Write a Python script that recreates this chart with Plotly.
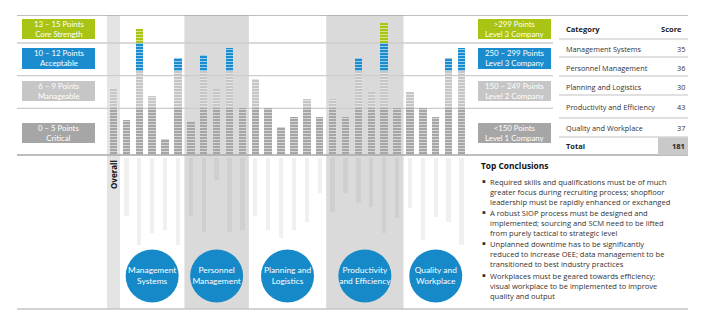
import plotly.graph_objects as go

# ---------------- data ----------------
categories = ["Management Systems", "Personnel Management", "Planning and Logistics",
              "Productivity and Efficiency", "Quality and Workplace"]
circle_labels = ["Management<br>Systems", "Personnel<br>Management", "Planning and<br>Logistics",
                 "Productivity<br>and Efficiency", "Quality and<br>Workplace"]
category_scores = [35, 36, 30, 43, 37]
total_score = 181
overall_value = 7.1
ms_q = [3.8, 13.5, 6.3, 1.7, 10.4]
pm_q = [3.6, 10.7, 7.1, 11.5, 5.0]
pl_q = [8.1, 5.0, 3.0, 4.1, 6.0, 4.1]
pe_q = [6.0, 4.1, 10.4, 6.8, 14.1, 5.0]
qw_q = [6.8, 5.0, 4.1, 10.4, 11.5]
question_groups = [ms_q, pm_q, pl_q, pe_q, qw_q]
shaded_groups = [1, 3]
# blurred (anonymised) question label lengths, px below the axis
blurred_label_len = [0, 58, 87, 75, 72, 87, 58, 74, 22, 74, 72, 58, 72, 80, 72,
                     64, 35, 54, 35, 45, 49, 75, 60, 50, 82, 59, 64, 87]
band_lines = [5, 8.5, 12, 15]
color_breaks = [5, 9, 12]
left_legend = ["13 – 15 Points<br>Core Strength", "10 – 12 Points<br>Acceptable",
               "6 – 9 Points<br>Manageable", "0 – 5 Points<br>Critical"]
right_legend = [">299 Points<br>Level 3 Company", "250 – 299 Points<br>Level 3 Company",
                "150 – 249 Points<br>Level 2 Company", "<150 Points<br>Level 1 Company"]
conclusions = [
    ["Required skills and qualifications must be of much",
     "greater focus during recruiting process; shopfloor",
     "leadership must be rapidly enhanced or exchanged"],
    ["A robust SIOP process must be designed and",
     "implemented; sourcing and SCM need to be lifted",
     "from purely tactical to strategic level"],
    ["Unplanned downtime has to be significantly",
     "reduced to increase OEE; data management to be",
     "transitioned to best industry practices"],
    ["Workplaces must be geared towards efficiency;",
     "visual workplace to be implemented to improve",
     "quality and output"],
]

# ---------------- styling ----------------
W, H = 713, 326
FONT = "Open Sans"
FONT2 = "Lato"
GREEN = "#a9c414"
BLUE = "#1b8dcf"
CIRCLE = "#1689c8"
LGREY = "#c6c6c6"
DGREY = "#a6a6a6"
band_colors = [DGREY, LGREY, BLUE, GREEN]


def px(x):
    return x / W


def py(y):
    return 1 - y / H


values = [overall_value] + [v for g in question_groups for v in g]
xs = list(range(len(values)))

# segment values per colour band
lows = [0] + color_breaks
highs = color_breaks + [None]
fig = go.Figure()
for lo, hi, col in zip(lows, highs, band_colors):
    seg = []
    for v in values:
        top = v if hi is None else min(v, hi)
        seg.append(max(0, top - lo))
    fig.add_trace(go.Bar(
        x=xs, y=seg, width=0.58, marker=dict(
            color=col, line=dict(width=0),
            pattern=dict(shape="-", fillmode="overlay", fgcolor="white",
                         fgopacity=0.55, size=3, solidity=0.33)),
        hoverinfo="skip", showlegend=False, xaxis="x", yaxis="y"))

# blurred labels below axis
fig.add_trace(go.Bar(
    x=xs[1:], y=blurred_label_len[1:], base=3, width=0.34,
    marker=dict(color="rgba(130,130,130,0.12)", line=dict(width=0)),
    hoverinfo="skip", showlegend=False, xaxis="x", yaxis="y2"))

# group circles
centers = []
start = 1
for g in question_groups:
    centers.append(start + (len(g) - 1) / 2)
    start += len(g)
fig.add_trace(go.Scatter(
    x=centers, y=[121] * len(centers), mode="markers+text",
    marker=dict(size=53, color=CIRCLE, line=dict(width=0)),
    text=circle_labels, textposition="middle center",
    textfont=dict(color="white", size=8.4, family=FONT2),
    hoverinfo="skip", showlegend=False, cliponaxis=False, xaxis="x", yaxis="y2"))

shapes = []
# shaded columns
shapes.append(dict(type="rect", xref="x", yref="paper", x0=-0.5, x1=0.5,
                   y0=py(309), y1=py(15), fillcolor="#e4e4e4", line_width=0, layer="below"))
start = 1
for gi, g in enumerate(question_groups):
    if gi in shaded_groups:
        shapes.append(dict(type="rect", xref="x", yref="paper", x0=start - 0.5,
                           x1=start + len(g) - 0.5, y0=py(309), y1=py(15),
                           fillcolor="#dadada", line_width=0, layer="below"))
    start += len(g)

# horizontal band lines
for b in band_lines[:-1]:
    shapes.append(dict(type="line", xref="paper", yref="y", x0=px(17), x1=px(553),
                       y0=b, y1=b, line=dict(color="#cdcdcd", width=1.3), layer="below"))
shapes.append(dict(type="line", xref="paper", yref="y", x0=px(17), x1=px(688),
                   y0=band_lines[-1], y1=band_lines[-1], line=dict(color="#a8a8a8", width=1.5),
                   layer="below"))
shapes.append(dict(type="line", xref="paper", yref="paper", x0=px(17), x1=px(688),
                   y0=py(155), y1=py(155), line=dict(color="#a8a8a8", width=1.5)))
shapes.append(dict(type="line", xref="paper", yref="paper", x0=px(17), x1=px(688),
                   y0=py(309), y1=py(309), line=dict(color="#c4c4c4", width=1.3)))

annotations = []
# legend boxes
box_rows = [(19, 39), (48, 69), (81, 101), (123, 143)]
box_cols = [GREEN, BLUE, LGREY, DGREY]
for (y0, y1), col, lt, rt in zip(box_rows, box_cols, left_legend, right_legend):
    for (x0, x1), t in (((22, 95), lt), ((478, 551), rt)):
        shapes.append(dict(type="rect", xref="paper", yref="paper", x0=px(x0), x1=px(x1),
                           y0=py(y1), y1=py(y0), fillcolor=col, line_width=0))
        annotations.append(dict(xref="paper", yref="paper", x=px((x0 + x1) / 2),
                                y=py((y0 + y1) / 2), text=t, showarrow=False,
                                font=dict(color="white", size=7.8, family=FONT2),
                                xanchor="center", yanchor="middle"))

# table
table_lines = [39, 57, 76, 95, 118, 137]
shapes.append(dict(type="rect", xref="paper", yref="paper", x0=px(658), x1=px(688),
                   y0=py(155), y1=py(137), fillcolor="#c9c9c9", line_width=0))
for yl in table_lines:
    shapes.append(dict(type="line", xref="paper", yref="paper", x0=px(559), x1=px(688),
                       y0=py(yl), y1=py(yl), line=dict(color="#d6d6d6", width=1.3)))
annotations.append(dict(xref="paper", yref="paper", x=px(564), y=py(29), text="<b>Category</b>",
                        showarrow=False, xanchor="left", yanchor="middle",
                        font=dict(size=7.5, color="#222", family=FONT)))
annotations.append(dict(xref="paper", yref="paper", x=px(684), y=py(28.5), text="<b>Score</b>",
                        showarrow=False, xanchor="right", yanchor="middle",
                        font=dict(size=7.5, color="#222", family=FONT)))
row_y = [49, 68, 87, 107, 128]
for ry, c, s in zip(row_y, categories, category_scores):
    annotations.append(dict(xref="paper", yref="paper", x=px(564), y=py(ry), text=c,
                            showarrow=False, xanchor="left", yanchor="middle",
                            font=dict(size=7.3, color="#333", family=FONT)))
    annotations.append(dict(xref="paper", yref="paper", x=px(687), y=py(ry), text=str(s),
                            showarrow=False, xanchor="right", yanchor="middle",
                            font=dict(size=7.3, color="#333", family=FONT)))
annotations.append(dict(xref="paper", yref="paper", x=px(564), y=py(146), text="<b>Total</b>",
                        showarrow=False, xanchor="left", yanchor="middle",
                        font=dict(size=7.5, color="#222", family=FONT)))
annotations.append(dict(xref="paper", yref="paper", x=px(687), y=py(146),
                        text="<b>%d</b>" % total_score, showarrow=False, xanchor="right",
                        yanchor="middle", font=dict(size=7.5, color="#222", family=FONT)))

# "Overall" rotated label
annotations.append(dict(xref="x", yref="paper", x=0, y=py(158), text="<b>Overall</b>",
                        textangle=-90, showarrow=False, xanchor="center", yanchor="top",
                        font=dict(size=8, color="#111", family=FONT)))

# conclusions
annotations.append(dict(xref="paper", yref="paper", x=px(479), y=py(165),
                        text="<b>Top Conclusions</b>", showarrow=False, xanchor="left",
                        yanchor="middle", font=dict(size=8.4, color="#111", family=FONT)))
bullet_y = [181, 212, 243, 275]
for by, lines in zip(bullet_y, conclusions):
    annotations.append(dict(xref="paper", yref="paper", x=px(481), y=py(by), text="▪",
                            showarrow=False, xanchor="left", yanchor="middle", borderpad=0,
                            font=dict(size=5.5, color="#333", family="DejaVu Sans")))
    annotations.append(dict(xref="paper", yref="paper", x=px(488.5), y=py(by - 5.5),
                            text="<br>".join(lines), showarrow=False, xanchor="left",
                            yanchor="top", align="left", borderpad=0,
                            font=dict(size=7.55, color="#333", family=FONT)))

step = 12.89
x0px = 113.5
xmin = -x0px / step
xmax = xmin + W / step
fig.update_layout(
    width=W, height=H, margin=dict(l=0, r=0, t=0, b=0),
    paper_bgcolor="white", plot_bgcolor="rgba(0,0,0,0)",
    barmode="stack", bargap=0,
    xaxis=dict(domain=[0, 1], range=[xmin, xmax], visible=False, fixedrange=True),
    yaxis=dict(domain=[(H - 155) / H, (H - 15) / H], range=[0, 15], visible=False),
    yaxis2=dict(domain=[(H - 309) / H, (H - 155) / H], range=[154, 0], visible=False,
                anchor="x"),
    shapes=shapes, annotations=annotations, showlegend=False,
    font=dict(family=FONT),
)
fig.write_html("out.html")
